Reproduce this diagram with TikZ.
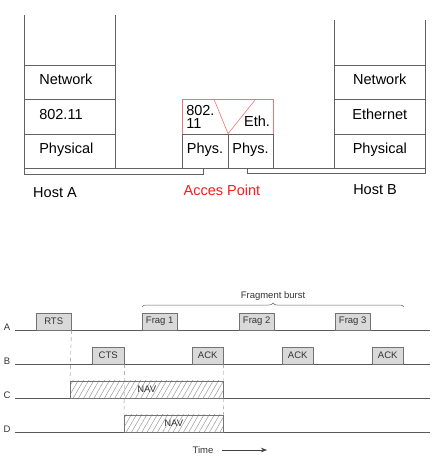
\documentclass[tikz,border=0pt]{standalone}
\usepackage{fontspec}
\setmainfont{Liberation Sans}
\usetikzlibrary{arrows.meta,decorations.pathreplacing,patterns.meta}
\definecolor{linegray}{gray}{0.38}
\definecolor{boxgray}{gray}{0.85}
\definecolor{apred}{rgb}{0.95,0.45,0.45}
\tikzset{
  layer/.style={draw=linegray, minimum width=91pt, minimum height=34.3pt, inner sep=0pt,
    anchor=north west, font=\fontsize{14.5}{16}\selectfont, text height=10pt, text depth=5pt},
  layerA/.style={layer, text width=61pt, inner xsep=15pt, align=left},
  frame/.style={draw=black!55, fill=boxgray, minimum height=17pt, inner sep=0pt,
    anchor=south west, font=\fontsize{9.5}{10}\selectfont, text=black!80},
  nav/.style={frame, fill=none, pattern={Lines[angle=60,distance=4.5pt,line width=0.5pt]},
    pattern color=black!40},
  timeline/.style={draw=black!65, line width=0.7pt},
  guide/.style={draw=black!45, dashed, dash pattern=on 4pt off 3pt, line width=0.4pt}
}
\begin{document}
\begin{tikzpicture}[x=1pt,y=-1pt]
    \useasboundingbox[fill=white] (0,0) rectangle (445,462);
    \begin{scope}[line width=0.6pt]
      \node[layerA] (netA) at (24,65) {Network};
      \node[layerA] (macA) at (24,99.3) {802.11};
      \node[layerA] (physA) at (24,133.7) {Physical};
      \draw[linegray] (netA.north west) -- (netA.north west |- 0,15);
      \draw[linegray] (netA.north east) -- (netA.north east |- 0,15);
      \node[layer] (netB) at (334,65) {Network};
      \node[layer] (macB) at (334,99.3) {Ethernet};
      \node[layer] (physB) at (334,133.7) {Physical};
      \draw[linegray] (netB.north west) -- (netB.north west |- 0,20);
      \draw[linegray] (netB.north east) -- (netB.north east |- 0,20);
      \node[layer, draw=apred, minimum height=34.4pt] (ap) at (182,99.3) {};
      \node[layer, minimum width=45.5pt] (physL) at (182,133.7) {Phys.};
      \node[layer, minimum width=45.5pt] (physR) at (227.5,133.7) {Phys.};
      \draw[apred] ([xshift=32pt]ap.north west) -- (physL.north east) -- ([xshift=-18pt]ap.north east);
      \node[anchor=west, align=left, inner sep=0pt, font=\fontsize{14.5}{13}\selectfont] (wlan) at (186,116.5) {802.\\11};
      \node[font=\fontsize{14.5}{16}\selectfont, inner sep=0pt] (eth) at (257,121) {Eth.};
      \draw[linegray] (physA.south west) -- (physB.south east);
      \coordinate (brA) at (203,168);
      \coordinate (brB) at (247,168);
      \draw[linegray] (physA.south west) -- +(0,5.5) -| (brA);
      \draw[linegray] (brB) -- +(0,5.5) -| (physB.south east);
      \path (55,193) node[font=\fontsize{14.5}{16}\selectfont] (hostA) {Host A};
      \path (222,190) node[font=\fontsize{14.5}{16}\selectfont, text=red!90] (apl) {Acces Point};
      \path (375,190) node[font=\fontsize{14.5}{16}\selectfont] (hostB) {Host B};
    \end{scope}
    \begin{scope}
      \foreach \y/\l in {330/A,364/B,398/C,432/D} {
        \coordinate (l\l) at (15,\y);
        \coordinate (r\l) at (430,\y);
        \draw[timeline] (l\l) -- (r\l);
        \node[font=\fontsize{9.5}{10}\selectfont, text=black!80] (lab\l) at (7,\y-3) {\l};
      }
      \node[frame, minimum width=35pt] (rts) at (36,330) {RTS};
      \foreach \x/\n in {142/1,239/2,335/3}
        \node[frame, minimum width=35pt] (frag\n) at (\x,330) {Frag \n};
      \node[frame, minimum width=32pt] (cts) at (92,364) {CTS};
      \foreach \x/\n in {192/1,282/2,372/3}
        \node[frame, minimum width=31pt] (ack\n) at (\x,364) {ACK};
      \node[nav, minimum width=153pt] (navC) at (70,398) {NAV};
      \node[nav, minimum width=99pt] (navD) at (124,432) {NAV};
      \draw[guide] (rts.south east) -- (navC.north west);
      \draw[guide] (cts.south east) -- (navD.north west);
      \draw[guide] (ack1.south east) -- (navC.north east);
      \draw[guide] (navC.south east) -- (navD.north east);
      \coordinate (burstL) at (142,307);
      \coordinate (burstR) at (404,307);
      \draw[black!60, line width=0.5pt, decoration={brace, amplitude=4pt}, decorate] (burstL) -- (burstR);
      \node[font=\fontsize{9.5}{10}\selectfont, text=black!80] (burst) at (273,296) {Fragment burst};
      \node[font=\fontsize{9.5}{10}\selectfont, text=black!80] (time) at (203,450) {Time};
      \coordinate (timeEnd) at (267,450);
      \draw[black!75, line width=0.6pt, -{Stealth[length=6pt]}] ([xshift=5pt]time.east) -- (timeEnd);
    \end{scope}
  \end{tikzpicture}
\end{document}
